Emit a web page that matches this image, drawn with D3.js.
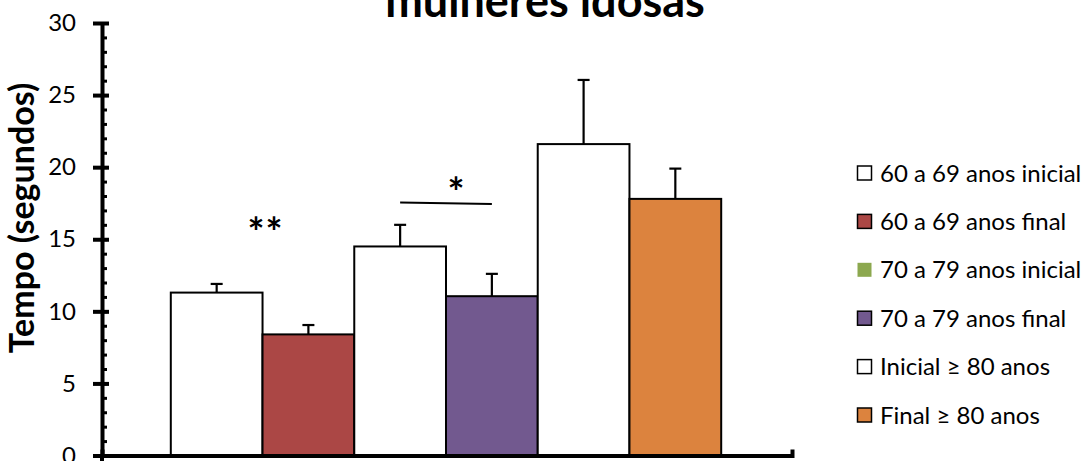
<!DOCTYPE html>
<html>
<head>
<meta charset="utf-8">
<script src="https://cdn.jsdelivr.net/npm/d3@7"></script>
<style>
  html, body { margin: 0; padding: 0; background: #fff; }
  svg { display: block; }
  text { font-family: Lato, "Open Sans", sans-serif; fill: #000; }
</style>
</head>
<body>
<svg id="chart" width="1086" height="461"></svg>
<script>
// Series shown as one bar each
const seriesNames = [
  "60 a 69 anos inicial",
  "60 a 69 anos final",
  "70 a 79 anos inicial",
  "70 a 79 anos final",
  "Inicial \u2265 80 anos",
  "Final \u2265 80 anos"
];
// Mean time (seconds) and upper error (standard deviation)
const meanValues = [11.3, 8.4, 14.5, 11.05, 21.6, 17.8];
const errorValues = [0.6, 0.65, 1.5, 1.55, 4.45, 2.1];
// Bar fill and legend swatch colours
const barColors = ["#ffffff", "#AB4745", "#ffffff", "#72598F", "#ffffff", "#DC833E"];
const legendColors = ["#ffffff", "#AB4745", "#8CA84F", "#72598F", "#ffffff", "#DC833E"];
const yTicks = [0, 5, 10, 15, 20, 25, 30];
const yMinorTicks = d3.range(0, 31, 1);
// Significance marks: "**" between first pair, "*" with a bracket line over second pair
const sigPairs = [
  { from: 0, to: 1, label: "**", level: 16.0, line: false },
  { from: 2, to: 3, label: "*", level: 17.55, line: true }
];

const svg = d3.select("#chart");
const W = 1086, H = 461;
svg.append("rect").attr("width", W).attr("height", H).attr("fill", "#fff");

const plotLeft = 102, plotRight = 790, plotTop = 23, plotBottom = 455.5;

const y = d3.scaleLinear().domain([0, 30]).range([plotBottom, plotTop]);
const x = d3.scaleBand().domain(seriesNames).range([plotLeft, plotRight])
  .paddingInner(0).paddingOuter(0.75);

// Title (upper line runs off the top edge)
svg.append("text")
  .attr("x", 545).attr("y", 17)
  .attr("text-anchor", "middle")
  .style("font-weight", "bold").style("font-size", "45px")
  .text("mulheres idosas");

// Y axis title
svg.append("text")
  .attr("transform", "translate(34,218) rotate(-90)")
  .attr("text-anchor", "middle")
  .style("font-weight", "bold").style("font-size", "34px")
  .text("Tempo (segundos)");

// Bars
const data = seriesNames.map((name, i) => ({
  name, value: meanValues[i], err: errorValues[i], color: barColors[i]
}));

svg.append("g").selectAll("rect").data(data).join("rect")
  .attr("x", d => x(d.name))
  .attr("y", d => y(d.value))
  .attr("width", x.bandwidth())
  .attr("height", d => y(0) - y(d.value))
  .attr("fill", d => d.color)
  .attr("stroke", "#000").attr("stroke-width", 2);

// Error bars (upper only)
const eb = svg.append("g").attr("stroke", "#000").attr("stroke-width", 2.2);
eb.selectAll("line.stem").data(data).join("line").attr("class", "stem")
  .attr("x1", d => x(d.name) + x.bandwidth() / 2)
  .attr("x2", d => x(d.name) + x.bandwidth() / 2)
  .attr("y1", d => y(d.value))
  .attr("y2", d => y(d.value + d.err));
eb.selectAll("line.cap").data(data).join("line").attr("class", "cap")
  .attr("x1", d => x(d.name) + x.bandwidth() / 2 - 6)
  .attr("x2", d => x(d.name) + x.bandwidth() / 2 + 6)
  .attr("y1", d => y(d.value + d.err))
  .attr("y2", d => y(d.value + d.err));

// Significance annotations
sigPairs.forEach(s => {
  const c1 = x(seriesNames[s.from]) + x.bandwidth() / 2;
  const c2 = x(seriesNames[s.to]) + x.bandwidth() / 2;
  if (s.line) {
    svg.append("line")
      .attr("x1", c1).attr("x2", c2)
      .attr("y1", y(s.level)).attr("y2", y(s.level) + 1.5)
      .attr("stroke", "#000").attr("stroke-width", 2);
    svg.append("text")
      .attr("x", (c1 + c2) / 2 + 10).attr("y", y(s.level) + 5)
      .attr("text-anchor", "middle")
      .style("font-weight", "bold").style("font-size", "40px")
      .text(s.label);
  } else {
    svg.append("text")
      .attr("x", x(seriesNames[s.to]) + 3).attr("y", y(s.level) + 22)
      .attr("text-anchor", "middle")
      .style("font-weight", "bold").style("font-size", "40px")
      .attr("letter-spacing", "1px")
      .text(s.label);
  }
});

// Y axis: labels and major ticks to the left
const yAxisG = svg.append("g").attr("transform", `translate(${plotLeft},0)`);
yAxisG.call(d3.axisLeft(y).tickValues(yTicks).tickSizeInner(9).tickSizeOuter(0).tickPadding(17));
yAxisG.select(".domain").attr("stroke", "#000").attr("stroke-width", 4);
yAxisG.selectAll(".tick line").attr("stroke", "#000").attr("stroke-width", 4);
yAxisG.selectAll(".tick text")
  .style("font-family", "Lato, sans-serif").style("font-size", "24px").attr("fill", "#000");

// Major ticks crossing to the right
const yMajorR = svg.append("g").attr("transform", `translate(${plotLeft},0)`);
yMajorR.call(d3.axisLeft(y).tickValues(yTicks).tickSizeInner(-7).tickSizeOuter(0).tickFormat(""));
yMajorR.select(".domain").remove();
yMajorR.selectAll(".tick line").attr("stroke", "#000").attr("stroke-width", 4);

// Minor ticks inside the plot
const yMinor = svg.append("g").attr("transform", `translate(${plotLeft},0)`);
yMinor.call(d3.axisLeft(y).tickValues(yMinorTicks).tickSizeInner(-5).tickSizeOuter(0).tickFormat(""));
yMinor.select(".domain").remove();
yMinor.selectAll(".tick line").attr("stroke", "#000").attr("stroke-width", 3);

// X axis line with upturned end ticks
const xAxisG = svg.append("g").attr("transform", `translate(0,${plotBottom})`);
xAxisG.call(d3.axisBottom(d3.scaleLinear().domain([0, 1]).range([plotLeft, plotRight + 2]))
  .tickValues([]).tickSizeOuter(-6));
xAxisG.select(".domain").attr("stroke", "#000").attr("stroke-width", 4);
// short tick below the origin
svg.append("line")
  .attr("x1", plotLeft).attr("x2", plotLeft)
  .attr("y1", plotBottom).attr("y2", plotBottom + 8)
  .attr("stroke", "#000").attr("stroke-width", 4);

// Legend
const legend = svg.append("g").attr("transform", "translate(857,173)");
const rowH = 48.4;
const items = legend.selectAll("g").data(seriesNames).join("g")
  .attr("transform", (d, i) => `translate(0,${i * rowH})`);
items.append("rect")
  .attr("x", 0.5).attr("y", -7)
  .attr("width", 14).attr("height", 14)
  .attr("fill", (d, i) => legendColors[i])
  .attr("stroke", (d, i) => i === 2 ? "none" : "#000")
  .attr("stroke-width", 1.5);
items.append("text")
  .attr("x", 23).attr("y", 0)
  .attr("dy", "0.36em")
  .style("font-size", "24px")
  .text(d => d);
</script>
</body>
</html>
